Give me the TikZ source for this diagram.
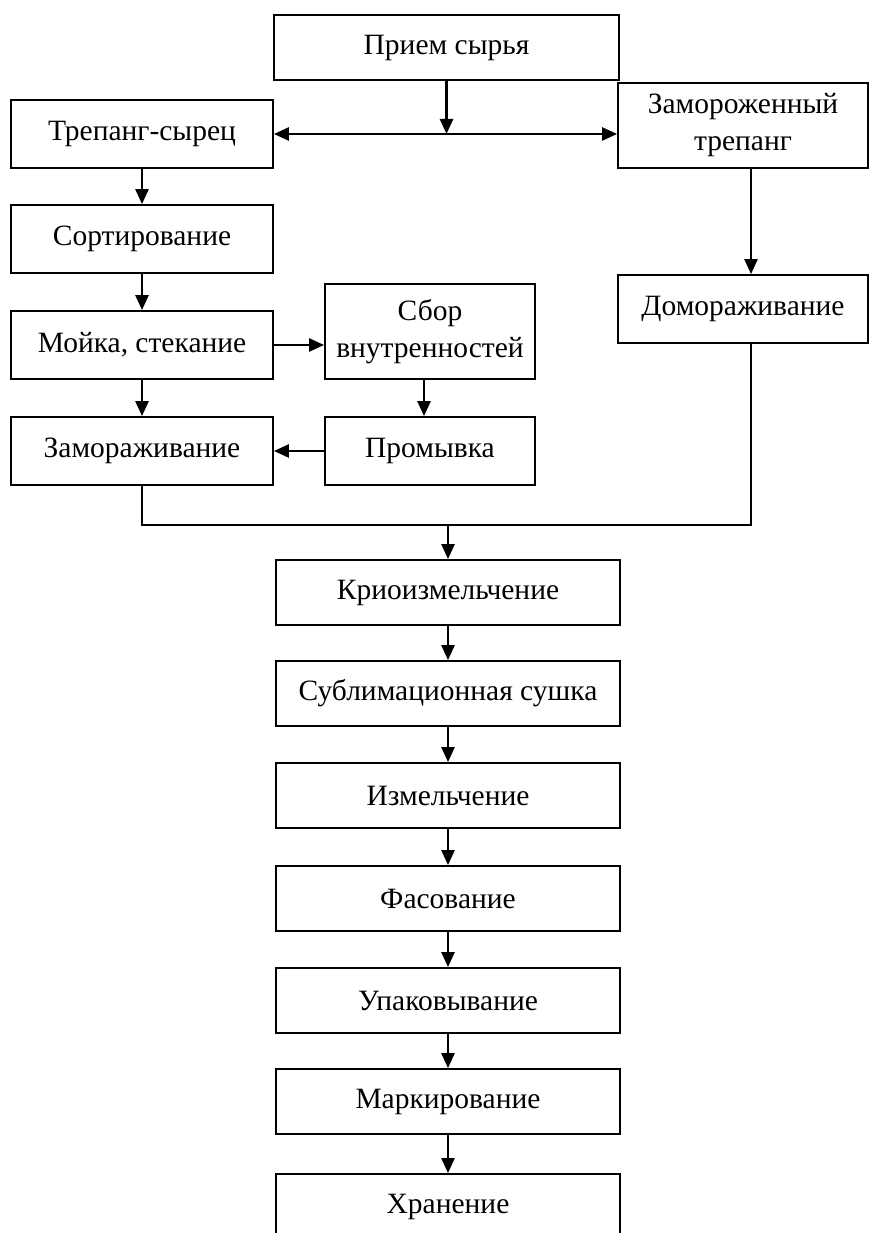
\documentclass[tikz,border=0pt]{standalone}
\usepackage{fontspec}
\setmainfont{Liberation Serif}
\usetikzlibrary{arrows.meta}
\begin{document}
\begin{tikzpicture}[x=1pt,y=-1pt,
  box/.style={draw, line width=1.8pt, inner sep=0pt, align=center},
  topbox/.style={box, font=\fontsize{29.5}{37}\selectfont},
  midbox/.style={box, font=\fontsize{29.5}{32}\selectfont, minimum width=344pt, minimum height=65pt},
  arr/.style={line width=2.5pt, -{Triangle[length=15pt,width=13pt]}},
  darr/.style={line width=2.5pt, {Triangle[length=15pt,width=13pt]}-{Triangle[length=15pt,width=13pt]}},
  thin/.style={line width=1.4pt}]
\useasboundingbox (0,0) rectangle (870,1233);
\clip (0,0) rectangle (870,1233);
\node[topbox, minimum width=345pt, minimum height=65pt] (priem) at (446.5,47.5) {Прием сырья};
\node[topbox, minimum width=262pt, minimum height=68pt] (trep) at (142,134) {Трепанг-сырец};
\node[topbox, minimum width=250pt, minimum height=85pt] (zamtr) at (743,125.5) {Замороженный\\трепанг};
\node[topbox, minimum width=262pt, minimum height=68pt] (sort) at (142,239) {Сортирование};
\node[topbox, minimum width=262pt, minimum height=68pt] (moika) at (142,345) {Мойка, стекание};
\node[topbox, minimum width=210pt, minimum height=95pt] (sbor) at (430,331.5) {Сбор\\внутренностей};
\node[topbox, minimum width=250pt, minimum height=68pt] (domor) at (743,309) {Домораживание};
\node[topbox, minimum width=262pt, minimum height=68pt] (zamor) at (142,451) {Замораживание};
\node[topbox, minimum width=210pt, minimum height=68pt] (promyv) at (430,451) {Промывка};
\node[midbox] (krio) at (448,592.5) {Криоизмельчение};
\node[midbox] (subl) at (448,693.5) {Сублимационная сушка};
\node[midbox] (izm) at (448,795.5) {Измельчение};
\node[midbox] (fas) at (448,898.5) {Фасование};
\node[midbox] (upak) at (448,1000.5) {Упаковывание};
\node[midbox] (mark) at (448,1101.5) {Маркирование};
\node[midbox] (hran) at (448,1206.5) {Хранение};
\coordinate (merge) at (448,525);
\draw[darr] (trep.east) -- (trep.east -| zamtr.west);
\draw[arr] (priem.south) -- (priem.south |- trep.east);
\draw[arr] (trep) -- (sort);
\draw[arr] (sort) -- (moika);
\draw[arr] (moika) -- (zamor);
\draw[arr] (moika.east) -- (moika.east -| sbor.west);
\draw[arr] ([xshift=-6pt]sbor.south) -- ([xshift=-6pt]promyv.north);
\draw[arr] (promyv.west) -- (zamor.east);
\draw[arr] ([xshift=8pt]zamtr.south) -- ([xshift=8pt]domor.north);
\draw[thin] (zamor.south) |- (merge) -| ([xshift=8pt]domor.south);
\draw[arr] (merge) -- (krio.north);
\draw[arr] (krio) -- (subl);
\draw[arr] (subl) -- (izm);
\draw[arr] (izm) -- (fas);
\draw[arr] (fas) -- (upak);
\draw[arr] (upak) -- (mark);
\draw[arr] (mark) -- (hran);
\end{tikzpicture}
\end{document}
